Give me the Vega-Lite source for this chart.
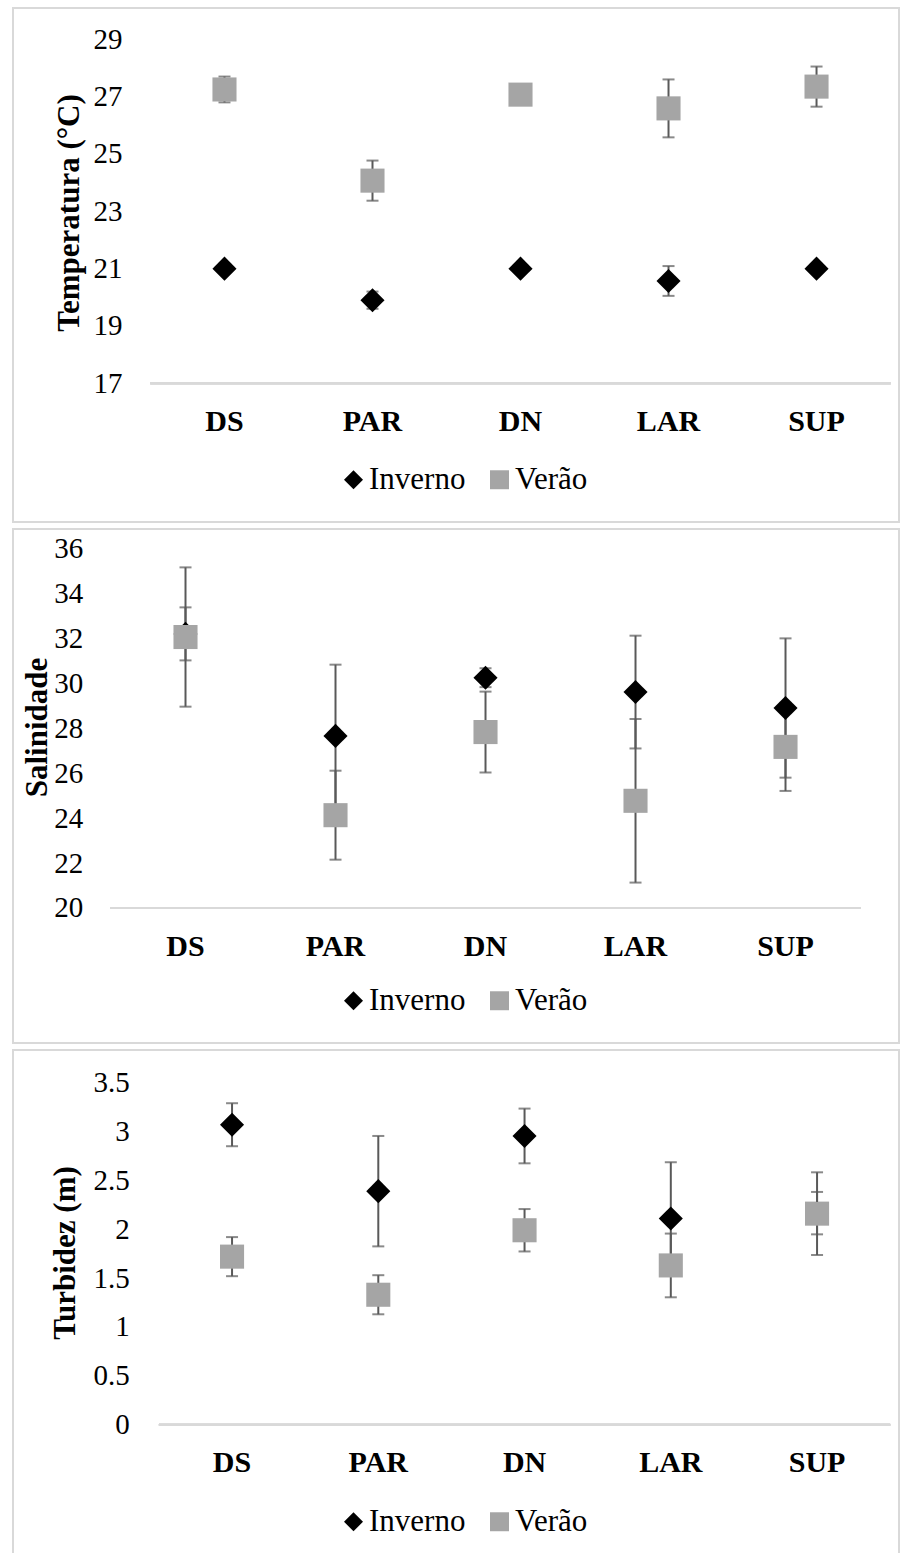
{
  "$schema": "https://vega.github.io/schema/vega-lite/v6.json",
  "padding": {"left": 12, "top": 7, "right": 0, "bottom": 0},
  "background": "white",
  "spacing": 5,
  "datasets": {
    "temp": [
      {"site": "DS", "season": "Inverno", "mean": 21.0, "sd": 0.1},
      {"site": "PAR", "season": "Inverno", "mean": 19.9, "sd": 0.3},
      {"site": "DN", "season": "Inverno", "mean": 21.0, "sd": 0.1},
      {"site": "LAR", "season": "Inverno", "mean": 20.57, "sd": 0.52},
      {"site": "SUP", "season": "Inverno", "mean": 21.0, "sd": 0.1},
      {"site": "DS", "season": "Verão", "mean": 27.25, "sd": 0.45},
      {"site": "PAR", "season": "Verão", "mean": 24.07, "sd": 0.7},
      {"site": "DN", "season": "Verão", "mean": 27.07, "sd": 0.3},
      {"site": "LAR", "season": "Verão", "mean": 26.59, "sd": 1.01},
      {"site": "SUP", "season": "Verão", "mean": 27.35, "sd": 0.7}
    ],
    "sal": [
      {"site": "DS", "season": "Inverno", "mean": 32.2, "sd": 1.18},
      {"site": "PAR", "season": "Inverno", "mean": 27.66, "sd": 3.17},
      {"site": "DN", "season": "Inverno", "mean": 30.25, "sd": 0.42},
      {"site": "LAR", "season": "Inverno", "mean": 29.61, "sd": 2.51},
      {"site": "SUP", "season": "Inverno", "mean": 28.9, "sd": 3.1},
      {"site": "DS", "season": "Verão", "mean": 32.06, "sd": 3.1},
      {"site": "PAR", "season": "Verão", "mean": 24.13, "sd": 1.98},
      {"site": "DN", "season": "Verão", "mean": 27.83, "sd": 1.8},
      {"site": "LAR", "season": "Verão", "mean": 24.77, "sd": 3.64},
      {"site": "SUP", "season": "Verão", "mean": 27.17, "sd": 1.96}
    ],
    "turb": [
      {"site": "DS", "season": "Inverno", "mean": 3.07, "sd": 0.22},
      {"site": "PAR", "season": "Inverno", "mean": 2.39, "sd": 0.565},
      {"site": "DN", "season": "Inverno", "mean": 2.955, "sd": 0.28},
      {"site": "LAR", "season": "Inverno", "mean": 2.11, "sd": 0.576},
      {"site": "SUP", "season": "Inverno", "mean": 2.165, "sd": 0.217},
      {"site": "DS", "season": "Verão", "mean": 1.72, "sd": 0.2},
      {"site": "PAR", "season": "Verão", "mean": 1.33, "sd": 0.2},
      {"site": "DN", "season": "Verão", "mean": 1.99, "sd": 0.217},
      {"site": "LAR", "season": "Verão", "mean": 1.63, "sd": 0.326},
      {"site": "SUP", "season": "Verão", "mean": 2.16, "sd": 0.423}
    ]
  },
  "vconcat": [
    {
      "width": 886,
      "height": 514,
      "data": {"name": "temp"},
      "encoding": {
        "x": {
          "field": "site", "type": "nominal", "sort": null,
          "scale": {"type": "band", "domain": ["DS", "PAR", "DN", "LAR", "SUP"], "paddingInner": 0, "paddingOuter": 0.493, "align": 0.942},
          "axis": {"title": null, "labelFontSize": 30, "labelFontWeight": "bold", "labelPadding": 23, "offset": -138.7, "labelAngle": 0}
        },
        "y": {
          "field": "mean", "type": "quantitative",
          "scale": {"domain": [12.162, 30.092], "nice": false, "zero": false},
          "axis": {"title": "Temperatura (°C)", "titleFontSize": 31, "titleFontWeight": "bold", "labelFontSize": 29, "labelPadding": 29, "offset": -138, "values": [17, 19, 21, 23, 25, 27, 29], "titlePadding": 8, "titleY": 204.5}
        }
      },
      "layer": [
        {
          "mark": {"type": "rule", "color": "#d9d9d9", "strokeWidth": 2},
          "encoding": {"x": {"datum": "DS", "bandPosition": 0}, "x2": {"datum": "SUP", "bandPosition": 1}, "y": {"datum": 17}}
        },
        {
          "mark": {"type": "errorbar", "ticks": true, "color": "#595959", "thickness": 2, "size": 12},
          "encoding": {"yError": {"field": "sd"}}
        },
        {
          "mark": {"type": "point", "filled": true, "opacity": 1, "strokeWidth": 0, "size": 580},
          "encoding": {
            "shape": {"field": "season", "type": "nominal", "scale": {"domain": ["Inverno", "Verão"], "range": ["diamond", "square"]},
              "legend": {"title": null, "orient": "none", "legendX": 325, "legendY": 456, "direction": "horizontal", "symbolSize": 360}},
            "color": {"field": "season", "type": "nominal", "scale": {"domain": ["Inverno", "Verão"], "range": ["#000000", "#a5a5a5"]},
              "legend": {"title": null, "orient": "none", "legendX": 325, "legendY": 456, "direction": "horizontal", "symbolSize": 360}}
          }
        }
      ]
    },
    {
      "width": 886,
      "height": 514,
      "data": {"name": "sal"},
      "encoding": {
        "x": {
          "field": "site", "type": "nominal", "sort": null,
          "scale": {"type": "band", "domain": ["DS", "PAR", "DN", "LAR", "SUP"], "paddingInner": 0, "paddingOuter": 0.4533, "align": 0.717},
          "axis": {"title": null, "labelFontSize": 30, "labelFontWeight": "bold", "labelPadding": 23, "offset": -135, "labelAngle": 0}
        },
        "y": {
          "field": "mean", "type": "quantitative",
          "scale": {"domain": [13.99, 36.868], "nice": false, "zero": false},
          "axis": {"title": "Salinidade", "titleFontSize": 31, "titleFontWeight": "bold", "labelFontSize": 29, "labelPadding": 28.3, "offset": -98, "values": [20, 22, 24, 26, 28, 30, 32, 34, 36], "titlePadding": 0, "titleY": 198}
        }
      },
      "layer": [
        {
          "mark": {"type": "rule", "color": "#d9d9d9", "strokeWidth": 2},
          "encoding": {"x": {"datum": "DS", "bandPosition": 0}, "x2": {"datum": "SUP", "bandPosition": 1}, "y": {"datum": 20}}
        },
        {
          "mark": {"type": "errorbar", "ticks": true, "color": "#595959", "thickness": 2, "size": 12},
          "encoding": {"yError": {"field": "sd"}}
        },
        {
          "mark": {"type": "point", "filled": true, "opacity": 1, "strokeWidth": 0, "size": 580},
          "encoding": {
            "shape": {"field": "season", "type": "nominal", "scale": {"domain": ["Inverno", "Verão"], "range": ["diamond", "square"]},
              "legend": {"title": null, "orient": "none", "legendX": 325, "legendY": 456, "direction": "horizontal", "symbolSize": 360}},
            "color": {"field": "season", "type": "nominal", "scale": {"domain": ["Inverno", "Verão"], "range": ["#000000", "#a5a5a5"]},
              "legend": {"title": null, "orient": "none", "legendX": 325, "legendY": 456, "direction": "horizontal", "symbolSize": 360}}
          }
        }
      ]
    },
    {
      "width": 886,
      "height": 514,
      "data": {"name": "turb"},
      "encoding": {
        "x": {
          "field": "site", "type": "nominal", "sort": null,
          "scale": {"type": "band", "domain": ["DS", "PAR", "DN", "LAR", "SUP"], "paddingInner": 0, "paddingOuter": 0.529, "align": 0.943},
          "axis": {"title": null, "labelFontSize": 30, "labelFontWeight": "bold", "labelPadding": 23, "offset": -139.3, "labelAngle": 0}
        },
        "y": {
          "field": "mean", "type": "quantitative",
          "scale": {"domain": [-1.4256, 3.8347], "nice": false, "zero": false},
          "axis": {"title": "Turbidez (m)", "titleFontSize": 31, "titleFontWeight": "bold", "labelFontSize": 29, "labelPadding": 29.7, "offset": -146, "values": [0, 0.5, 1, 1.5, 2, 2.5, 3, 3.5], "format": "~g", "titlePadding": 12, "titleY": 202.5}
        }
      },
      "layer": [
        {
          "mark": {"type": "rule", "color": "#d9d9d9", "strokeWidth": 2},
          "encoding": {"x": {"datum": "DS", "bandPosition": 0}, "x2": {"datum": "SUP", "bandPosition": 1}, "y": {"datum": 0}}
        },
        {
          "mark": {"type": "errorbar", "ticks": true, "color": "#595959", "thickness": 2, "size": 12},
          "encoding": {"yError": {"field": "sd"}}
        },
        {
          "mark": {"type": "point", "filled": true, "opacity": 1, "strokeWidth": 0, "size": 580},
          "encoding": {
            "shape": {"field": "season", "type": "nominal", "scale": {"domain": ["Inverno", "Verão"], "range": ["diamond", "square"]},
              "legend": {"title": null, "orient": "none", "legendX": 325, "legendY": 456, "direction": "horizontal", "symbolSize": 360}},
            "color": {"field": "season", "type": "nominal", "scale": {"domain": ["Inverno", "Verão"], "range": ["#000000", "#a5a5a5"]},
              "legend": {"title": null, "orient": "none", "legendX": 325, "legendY": 456, "direction": "horizontal", "symbolSize": 360}}
          }
        }
      ]
    }
  ],
  "resolve": {
    "scale": {"x": "independent", "y": "independent", "color": "independent", "shape": "independent"},
    "legend": {"color": "independent", "shape": "independent"}
  },
  "config": {
    "view": {"stroke": "#d9d9d9", "strokeWidth": 2},
    "font": "Liberation Serif",
    "axis": {"labelFont": "Liberation Serif", "titleFont": "Liberation Serif", "labelColor": "#000000", "titleColor": "#000000", "ticks": false, "tickSize": 0, "domain": false, "grid": false},
    "legend": {"labelFont": "Liberation Serif", "labelFontSize": 31, "labelColor": "#000000", "symbolSize": 360, "labelOffset": 0, "columnPadding": 18, "symbolStrokeWidth": 0, "symbolOpacity": 1, "padding": 0}
  }
}
